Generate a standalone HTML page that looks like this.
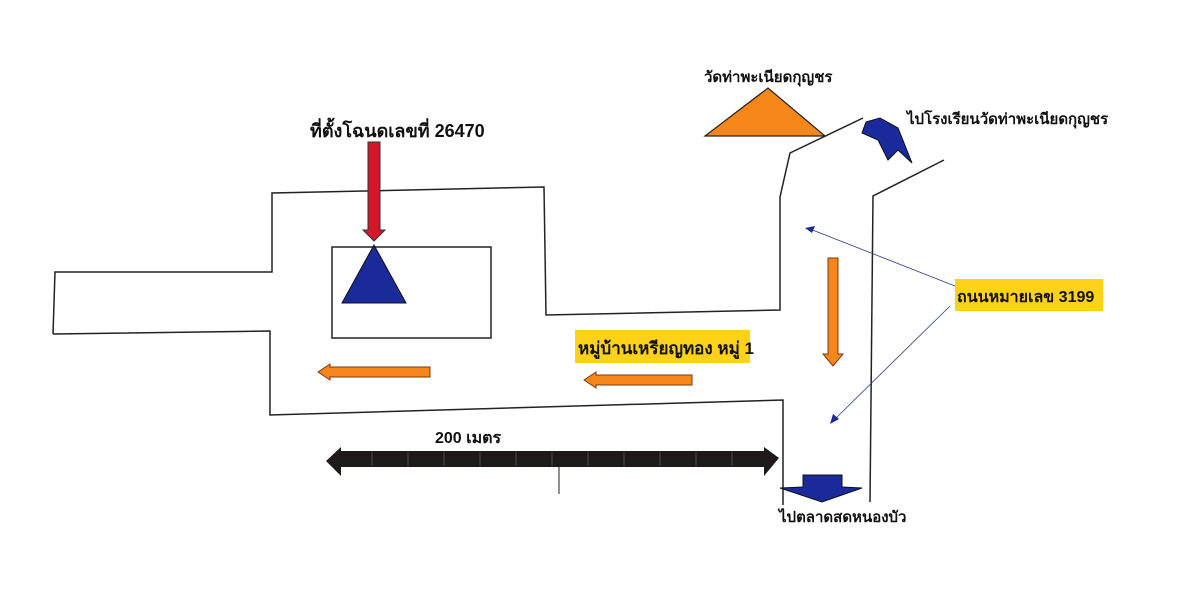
<!DOCTYPE html>
<html><head><meta charset="utf-8"><style>
html,body{margin:0;padding:0;background:#fff;width:1200px;height:607px;overflow:hidden}
svg{display:block}
text{font-family:"Liberation Sans","Noto Sans CJK SC",sans-serif;font-weight:bold;fill:#111}
</style></head><body>
<svg width="1200" height="607" viewBox="0 0 1200 607">
<g fill="none" stroke="#222" stroke-width="1.5">
<polyline points="53,334 55,272 272,272 272,193 544,187 546,315 780,310 780,197 790,153 863,118"/>
<polyline points="944,160 873,196 870,502"/>
<polyline points="53,334 270,331 270,415 783,400 783,505"/>
<rect x="332" y="247" width="159" height="91"/>
<line x1="559" y1="466" x2="559" y2="494" stroke-width="1"/>
</g>
<polygon points="342,303 374,245 406,303" fill="#1a2a9a" stroke="#111" stroke-width="1"/>
<polygon points="368,142 380,142 380,230 385,230 374,241 363,230 368,230" fill="#d0182a" stroke="#333" stroke-width="1"/>
<polygon points="705,136 768,88 825,136" fill="#f5861a" stroke="#222" stroke-width="1.2"/>
<polygon points="866,122 880,118 898,128 912,163 898,150 888,160 878,140 862,133" fill="#1a2a9a" stroke="#111" stroke-width="1"/>
<polygon points="803,475 842,475 842,487 862,488 822,502 780,488 803,487" fill="#1a2a9a" stroke="#111" stroke-width="1"/>
<polygon points="330,367 430,367 430,377 330,377 330,380 318,372 330,364" fill="#f5861a" stroke="#7a3a10" stroke-width="1"/>
<polygon points="596,375 692,375 692,385 596,385 596,388 584,380 596,372" fill="#f5861a" stroke="#7a3a10" stroke-width="1"/>
<polygon points="828,258 838,258 838,354 843,354 833,366 823,354 828,354" fill="#f5861a" stroke="#7a3a10" stroke-width="1"/>
<polygon points="326,461 341,447 341,451 764,451 764,447 779,458 764,476 764,467 341,467 341,476" fill="#1e1a1a"/>
<g stroke="#555" stroke-width="0.8">
<line x1="372" y1="452" x2="372" y2="466"/><line x1="408" y1="452" x2="408" y2="466"/><line x1="444" y1="452" x2="444" y2="466"/><line x1="480" y1="452" x2="480" y2="466"/><line x1="516" y1="452" x2="516" y2="466"/><line x1="552" y1="452" x2="552" y2="466"/><line x1="588" y1="452" x2="588" y2="466"/><line x1="624" y1="452" x2="624" y2="466"/><line x1="660" y1="452" x2="660" y2="466"/><line x1="696" y1="452" x2="696" y2="466"/><line x1="732" y1="452" x2="732" y2="466"/>
</g>
<g stroke="#2a3a8a" stroke-width="0.8">
<line x1="955" y1="286" x2="810" y2="229"/>
<line x1="950" y1="306" x2="834" y2="420"/>
</g>
<polygon points="805,228 815,226 812,233" fill="#1a2a9a"/>
<polygon points="830,424 833,414 839,419" fill="#1a2a9a"/>
<rect x="575" y="330" width="175" height="33" fill="#ffd21a"/>
<rect x="955" y="279" width="148" height="32" fill="#ffd21a"/>
<text x="310" y="137" font-size="18">ที่ตั้งโฉนดเลขที่ 26470</text>
<text x="578" y="354" font-size="17">หมู่บ้านเหรียญทอง หมู่ 1</text>
<text x="957" y="302" font-size="16">ถนนหมายเลข 3199</text>
<text x="435" y="443" font-size="16">200 เมตร</text>
<text x="704" y="82" font-size="15">วัดท่าพะเนียดกุญชร</text>
<text x="907" y="124" font-size="15">ไปโรงเรียนวัดท่าพะเนียดกุญชร</text>
<text x="779" y="522" font-size="15">ไปตลาดสดหนองบัว</text>
</svg>
</body></html>
